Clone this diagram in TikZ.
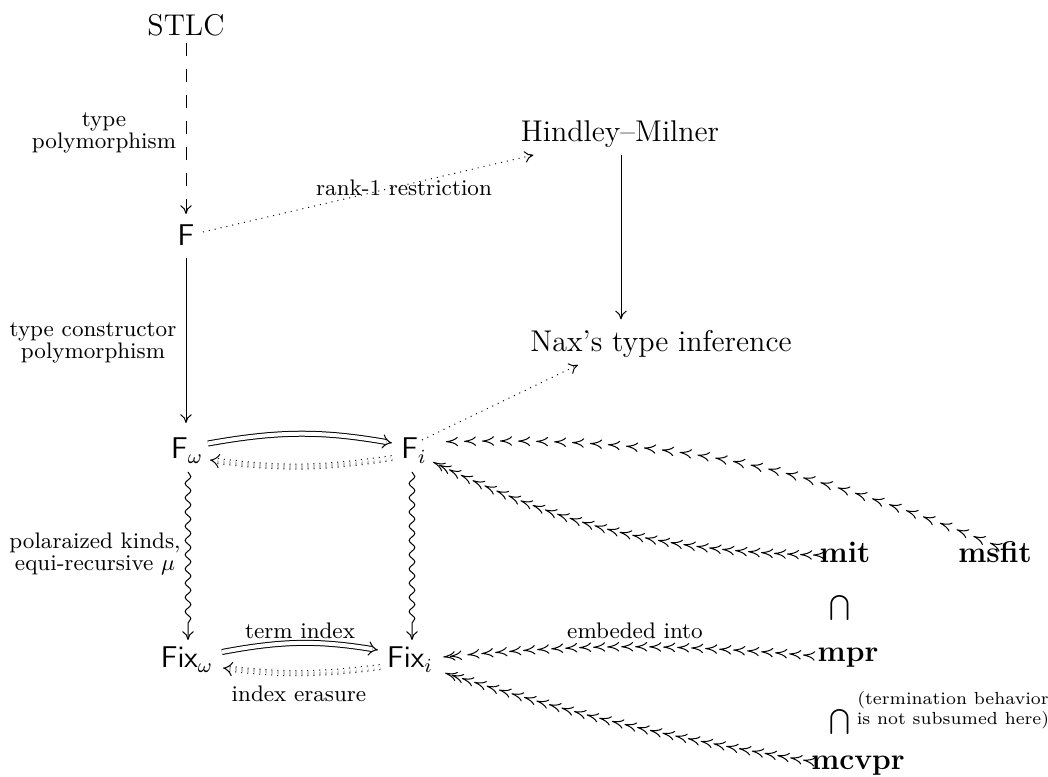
\documentclass[tikz,border=0pt]{standalone}
\usetikzlibrary{arrows.meta,decorations.pathmorphing,decorations.markings,calc}
\begin{document}
\begin{tikzpicture}[x=0.4pt,y=-0.4pt,
  line width=0.4pt,
  >={Computer Modern Rightarrow[length=3.5pt,width=4.6pt]},
  every node/.style={inner sep=0pt},
  big/.style={font=\fontsize{12}{14.5}\selectfont, anchor=base},
  bigb/.style={font=\fontsize{12}{14.5}\selectfont\bfseries, anchor=base},
  lab/.style={font=\fontsize{9}{9}\selectfont, align=center},
  note/.style={font=\fontsize{7}{6}\selectfont, align=center},
  ar/.style={->},
  dashar/.style={->, dash pattern=on 5.2pt off 5.2pt},
  dotar/.style={->, dash pattern=on 0.4pt off 2pt},
  dbl/.style={double, double distance=1.6pt, -{Implies}},
  dbldot/.style={double, double distance=1.6pt, -{Implies}, dash pattern=on 0.4pt off 2pt},
  wavy/.style={->, decorate, decoration={snake, amplitude=.4mm, segment length=2mm, post length=1.5mm}},
  chainar/.style={decorate, decoration={markings,
      mark=between positions 0 and -7pt step #1 with {\arrow{>}},
      mark=at position -2.8pt with {\arrow{>}},
      mark=at position 0.999 with {\arrow{>}}}},
  chainsingle/.style={decorate, decoration={markings,
      mark=between positions 0 and 0.999 step #1 with {\arrow{>}}}},
  chaintip/.style={>={Computer Modern Rightarrow[length=4.8pt,width=3.8pt]}}
]
\useasboundingbox (0,0) rectangle (1048,777);

% nodes
\node[big] (STLC) at (186,36) {STLC};
\node[big] (F) at (186,246) {$\mathsf{F}$};
\node[big] (HM) at (620,142) {Hindley--Milner};
\node[big] (Nax) at (661,352) {Nax's type inference};
\node[big] (Fw) at (187,459) {$\mathsf{F}_\omega$};
\node[big] (Fi) at (414,459) {$\mathsf{F}_i$};
\node[big] (Fixw) at (187,668) {$\mathsf{Fix}_\omega$};
\node[big] (Fixi) at (410,668) {$\mathsf{Fix}_i$};
\node[bigb] (mit) at (845,563) {mit};
\node[bigb] (msfit) at (995,563) {msfit};
\node[font=\fontsize{10}{12}\selectfont] (cap1) at (840,608) {$\bigcap$};
\node[bigb] (mpr) at (848,662) {mpr};
\node[font=\fontsize{10}{12}\selectfont] (cap2) at (840,722) {$\bigcap$};
\node[note] (nt) at (953,710) {(termination behavior\\ is not subsumed here)};
\node[bigb] (mcvpr) at (858,770) {mcvpr};

% labels
\node[lab] (l1) at (104,133) {type\\polymorphism};
\node[lab] (l2) at (93,343) {type constructor\\polymorphism};
\node[lab] (l3) at (95,554) {polaraized kinds,\\equi-recursive $\mu$};
\node[lab] (l4) at (404,188) {rank-1 restriction};
\node[lab] (l5) at (300,631) {term index};
\node[lab] (l6) at (299,694) {index erasure};
\node[lab] (l7) at (635,631) {embeded into};

% connectors
\draw[dashar] ($(STLC.base)+(0,7)$) -- ($(F.base)+(0,-32)$);
\draw[dotar] ($(F.base)+(17,-14)$) -- ($(HM.base west)+(13,13)$);
\path ($(HM.base)+(1,13)$) coordinate (hm1);
\draw[ar, shorten >=4.4pt] (hm1) -- (hm1 |- Nax.north);
\draw[ar] ($(F.base)+(0,12)$) -- ($(Fw.base)+(-1,-36)$);
\draw[dbl] ($(Fw.base)+(21,-15.5)$) to[bend left=10] ($(Fi.base)+(-22,-16)$);
\draw[dbldot] ($(Fi.base)+(-22,-1)$) to[bend left=8] ($(Fw.base)+(23,1)$);
\draw[dotar] ($(Fi.base)+(8,-19)$) -- ($(Nax.base west)+(48,13)$);
\draw[wavy] ($(Fw.base)+(1,13)$) -- ($(Fixw.base)+(1,-28)$);
\draw[wavy] ($(Fi.base)+(-2,13)$) -- ($(Fixi.base)+(2,-28)$);
\draw[dbl] ($(Fixw.base)+(35,-16)$) to[bend left=10] ($(Fixi.base)+(-32,-18)$);
\draw[dbldot] ($(Fixi.base)+(-30,-1)$) to[bend left=7] ($(Fixw.base)+(36,0)$);

% chains of tips
\draw[chaintip, chainsingle=7.2pt] ($(msfit.base)+(-5,-20)$) to[bend right=12] ($(Fi.base)+(22,-17)$);
\draw[chaintip, chainar=5.2pt] ($(mit.base)+(-32,-8)$) to[bend left=12] ($(Fi.base)+(19,3)$);
\draw[chaintip, chainar=5.6pt] ($(mpr.base)+(-45,-7)$) to[bend right=5] ($(Fixi.base)+(33,-11)$);
\draw[chaintip, chainar=5.2pt] ($(mcvpr.base)+(-55,-10)$) to[bend left=4] ($(Fixi.base)+(35,5)$);
\end{tikzpicture}
\end{document}
